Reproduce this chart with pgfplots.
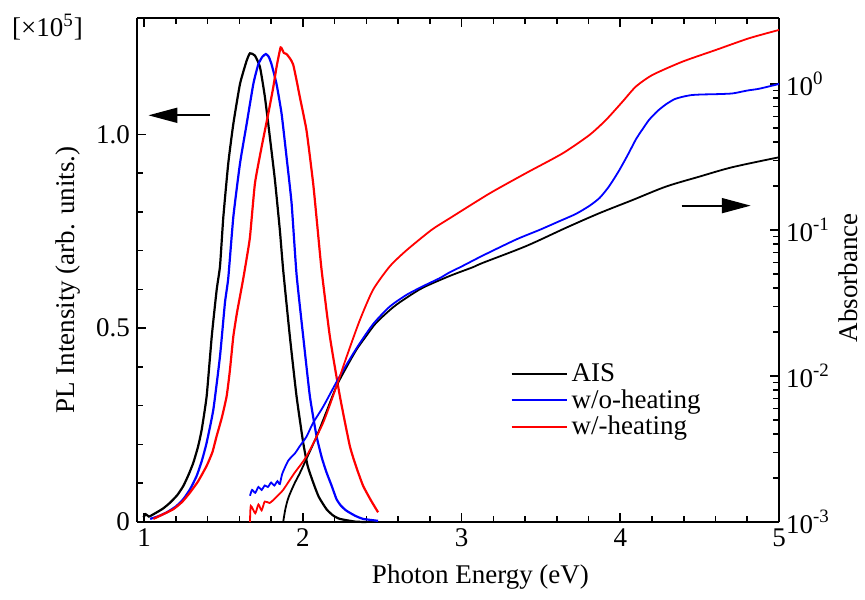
\documentclass[border=0pt]{standalone}
\usepackage{fontspec}
\setmainfont{Liberation Serif}
\usepackage{pgfplots}
\pgfplotsset{compat=1.18}
\usetikzlibrary{arrows.meta}
\newcommand{\fs}{\fontsize{13.5}{16}\selectfont}

\begin{document}
\begin{tikzpicture}
\useasboundingbox (-68.5pt,-38.5pt) rectangle (364pt,261pt);
\begin{axis}[
  scale only axis, width=321pt, height=252pt,
  xmin=0.955, xmax=5, ymin=0, ymax=1.3,
  axis y line*=left,
  axis line style={line width=0.9pt},
  xtick={1,2,3,4,5}, xticklabels={1,2,3,4,5},
  minor x tick num=4,
  ytick={0,0.5,1.0}, yticklabels={0,0.5,1.0},
  minor y tick num=4,
  major tick length=4.5pt, minor tick length=3pt,
  every tick/.style={black, line width=0.8pt},
  tick label style={font=\fs},
  label style={font=\fs},
  xlabel={Photon Energy (eV)},
  ylabel={PL Intensity (arb. units.)},
  xlabel style={at={(axis description cs:0.535,0)}, anchor=center, yshift=-27.5pt},
  ylabel style={at={(axis description cs:0,0.48)}, anchor=center, yshift=34.5pt},
  legend style={draw=none, fill=none, font=\fs, at={(axis description cs:0.578,0.327)}, anchor=north west, row sep=-1.5pt, inner sep=1pt},
  legend cell align=left,
  legend image code/.code={\draw[#1] (0pt,0pt) -- (27.5pt,0pt);},
  clip=false,
]
% AIS PL
\addplot[black, line width=1.1pt, smooth, tension=0.3] coordinates {
(0.996,0.012)(1.01,0.02)(1.03,0.014)(1.05,0.018)(1.08,0.025)(1.12,0.035)(1.164,0.05)(1.21,0.07)(1.247,0.093)(1.28,0.122)(1.31,0.153)(1.34,0.195)(1.363,0.239)(1.394,0.325)(1.426,0.479)(1.457,0.599)(1.478,0.66)(1.499,0.787)(1.53,0.925)(1.562,1.027)(1.604,1.13)(1.646,1.19)(1.667,1.209)(1.698,1.203)(1.73,1.173)(1.761,1.096)(1.792,0.993)(1.824,0.882)(1.855,0.753)(1.876,0.65)(1.918,0.479)(1.96,0.325)(2.002,0.205)(2.03,0.145)(2.065,0.102)(2.1,0.065)(2.149,0.033)(2.19,0.017)(2.233,0.008)(2.33,0.001)(2.4,0)
};
\addlegendentry{AIS}
% w/o-heating PL
\addplot[blue, line width=1.1pt, smooth, tension=0.3] coordinates {
(1.038,0.008)(1.09,0.015)(1.143,0.025)(1.2,0.04)(1.247,0.059)(1.29,0.085)(1.331,0.119)(1.365,0.16)(1.394,0.205)(1.436,0.29)(1.478,0.428)(1.509,0.565)(1.53,0.629)(1.562,0.787)(1.604,0.925)(1.646,1.027)(1.688,1.13)(1.719,1.18)(1.745,1.2)(1.767,1.207)(1.785,1.2)(1.803,1.18)(1.834,1.13)(1.866,1.053)(1.897,0.942)(1.929,0.822)(1.96,0.64)(2.002,0.479)(2.044,0.325)(2.086,0.222)(2.12,0.165)(2.149,0.128)(2.18,0.095)(2.212,0.059)(2.24,0.042)(2.275,0.029)(2.33,0.016)(2.38,0.008)(2.474,0.003)
};
\addlegendentry{w/o-heating}
% w/-heating PL
\addplot[red, line width=1.1pt, smooth, tension=0.3] coordinates {
(1.058,0.008)(1.12,0.02)(1.184,0.033)(1.24,0.052)(1.289,0.076)(1.34,0.105)(1.394,0.145)(1.43,0.18)(1.457,0.222)(1.49,0.27)(1.52,0.325)(1.54,0.39)(1.562,0.479)(1.585,0.54)(1.604,0.582)(1.625,0.629)(1.646,0.68)(1.667,0.736)(1.698,0.873)(1.74,0.967)(1.782,1.053)(1.813,1.12)(1.834,1.173)(1.86,1.224)(1.88,1.21)(1.897,1.207)(1.92,1.195)(1.939,1.18)(1.96,1.14)(1.981,1.096)(2.023,1.01)(2.065,0.873)(2.092,0.76)(2.118,0.65)(2.17,0.479)(2.233,0.325)(2.296,0.196)(2.338,0.14)(2.38,0.093)(2.43,0.055)(2.474,0.025)
};
\addlegendentry{w/-heating}
% arrows
\draw[line width=0.9pt, -{Triangle[length=14.5pt,width=7.5pt]}] (axis cs:1.415,1.049) -- (axis cs:1.027,1.049);
\draw[line width=0.9pt, -{Triangle[length=14.5pt,width=7.5pt]}] (axis cs:4.386,0.816) -- (axis cs:4.822,0.816);
% multiplier
\node[font=\fs, anchor=center] at ([xshift=-44.75pt, yshift=-4.5pt]rel axis cs:0,1) {[×10\textsuperscript{5}]};
\end{axis}

\begin{axis}[
  scale only axis, width=321pt, height=252pt,
  xmin=0.955, xmax=5,
  ymode=log, ymin=1e-3, ymax=2.83,
  axis y line*=right, axis x line=none,
  axis line style={line width=0.9pt},
  ytick={1e-3,1e-2,1e-1,1},
  yticklabels={10\textsuperscript{-3},10\textsuperscript{-2},10\textsuperscript{-1},10\textsuperscript{0}},
  major tick length=4.5pt, minor tick length=3pt,
  every tick/.style={black, line width=0.8pt},
  tick label style={font=\fs},
  label style={font=\fs},
  ylabel={Absorbance},
  ylabel style={at={(axis description cs:1,0.485)}, anchor=center, yshift=-34.5pt},
]
% AIS absorbance (log10 values)
\addplot[black, line width=0.9pt, smooth, tension=0.5] table[x=x, y expr={10^(\thisrow{y})}] {
x y
1.876 -3.0
1.89 -2.91
1.91 -2.83
1.95 -2.73
1.981 -2.665
2.03 -2.55
2.086 -2.415
2.15 -2.24
2.212 -2.07
2.275 -1.94
2.338 -1.82
2.4 -1.725
2.463 -1.635
2.568 -1.53
2.652 -1.465
2.757 -1.395
2.925 -1.315
3.071 -1.255
3.134 -1.225
3.407 -1.11
3.658 -0.985
3.868 -0.885
4.077 -0.795
4.287 -0.703
4.497 -0.635
4.706 -0.57
5.0 -0.502
};
% w/o-heating absorbance
\addplot[blue, line width=0.9pt, smooth, tension=0.4] table[x=x, y expr={10^(\thisrow{y})}] {
x y
1.667 -2.82
1.68 -2.78
1.7 -2.80
1.72 -2.76
1.74 -2.78
1.76 -2.75
1.78 -2.76
1.8 -2.73
1.82 -2.75
1.84 -2.72
1.855 -2.74
1.87 -2.67
1.908 -2.58
1.95 -2.53
1.981 -2.48
2.023 -2.415
2.065 -2.32
2.128 -2.21
2.233 -2.0
2.338 -1.81
2.442 -1.645
2.547 -1.525
2.652 -1.445
2.757 -1.385
2.862 -1.33
2.925 -1.29
3.0 -1.25
3.134 -1.175
3.344 -1.065
3.49 -1.0
3.616 -0.94
3.72 -0.89
3.805 -0.835
3.87 -0.78
3.93 -0.70
3.994 -0.59
4.05 -0.48
4.098 -0.38
4.14 -0.31
4.182 -0.245
4.235 -0.185
4.287 -0.14
4.34 -0.105
4.392 -0.088
4.45 -0.076
4.518 -0.072
4.6 -0.07
4.706 -0.065
4.8 -0.045
4.874 -0.033
5.0 0.0
};
% w/-heating absorbance
\addplot[red, line width=0.9pt, smooth, tension=0.4] table[x=x, y expr={10^(\thisrow{y})}] {
x y
1.667 -3.0
1.672 -2.89
1.7 -2.94
1.72 -2.88
1.74 -2.92
1.76 -2.86
1.79 -2.87
1.813 -2.85
1.85 -2.81
1.876 -2.78
1.95 -2.66
2.023 -2.55
2.128 -2.32
2.212 -2.07
2.275 -1.87
2.358 -1.62
2.442 -1.41
2.547 -1.25
2.652 -1.14
2.81 -1.0
2.925 -0.92
3.176 -0.75
3.407 -0.61
3.637 -0.475
3.805 -0.35
3.91 -0.246
4.015 -0.12
4.098 -0.018
4.203 0.062
4.392 0.153
4.602 0.233
4.811 0.313
5.0 0.37
};
\end{axis}
\end{tikzpicture}
\end{document}
